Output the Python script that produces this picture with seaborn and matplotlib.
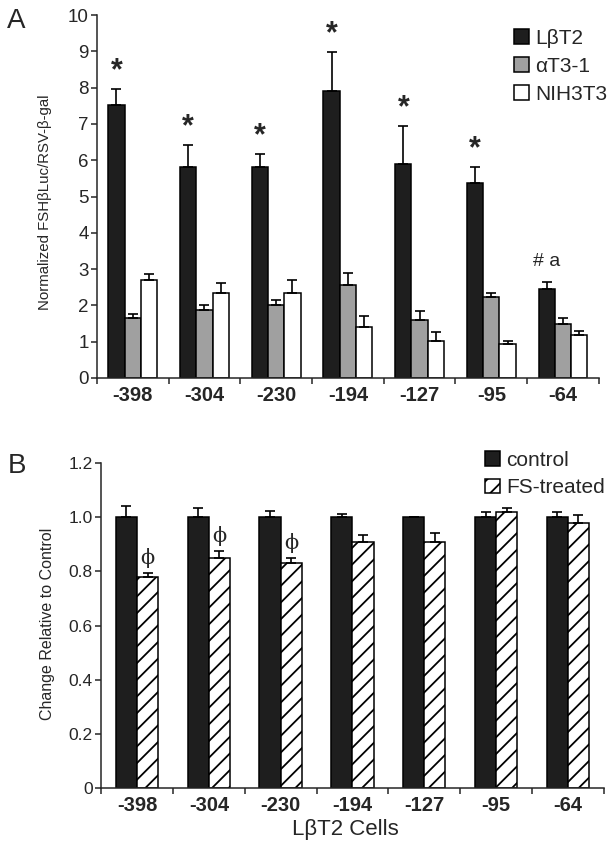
import numpy as np
import pandas as pd
import seaborn as sns
import matplotlib.pyplot as plt
from matplotlib.patches import Patch
from matplotlib.ticker import FixedLocator


promoters = ["-398", "-304", "-230", "-194", "-127", "-95", "-64"]

# panel A: normalized FSHbLuc / RSV-b-gal
cells = ["LβT2", "αT3-1", "NIH3T3"]
lbt2_mean = [7.52, 5.80, 5.80, 7.91, 5.89, 5.38, 2.46]
lbt2_err = [0.45, 0.62, 0.38, 1.07, 1.05, 0.44, 0.19]
at3_mean = [1.65, 1.88, 2.00, 2.56, 1.60, 2.22, 1.48]
at3_err = [0.10, 0.12, 0.14, 0.34, 0.25, 0.11, 0.16]
nih_mean = [2.70, 2.35, 2.35, 1.40, 1.03, 0.93, 1.18]
nih_err = [0.17, 0.27, 0.35, 0.31, 0.23, 0.10, 0.11]
star_marks = ["*", "*", "*", "*", "*", "*", "# a"]

# panel B: change relative to control
treatments = ["control", "FS-treated"]
ctrl_mean = [1.0, 1.0, 1.0, 1.0, 1.0, 1.0, 1.0]
ctrl_err = [0.042, 0.034, 0.025, 0.011, 0.003, 0.021, 0.021]
fs_mean = [0.78, 0.85, 0.83, 0.91, 0.91, 1.02, 0.98]
fs_err = [0.014, 0.025, 0.021, 0.025, 0.033, 0.015, 0.030]
phi_marks = ["ϕ", "ϕ", "ϕ", "", "", "", ""]

BLACK = "#1e1e1e"
GREY = "#a0a0a0"

sns.set_style("ticks")
plt.rcParams["font.family"] = ["Liberation Sans", "DejaVu Sans"]
plt.rcParams["hatch.linewidth"] = 1.3
plt.rcParams["axes.linewidth"] = 1.1


def style_axis(ax, ysize):
    sns.despine(ax=ax)
    ax.set_xlim(-0.5, 6.5)
    ax.tick_params(axis="x", which="major", length=0, pad=6)
    ax.xaxis.set_minor_locator(FixedLocator(np.arange(-0.5, 7, 1)))
    ax.tick_params(axis="x", which="minor", length=4, width=1.1, direction="out")
    ax.tick_params(axis="y", length=4, width=1.1, labelsize=ysize, pad=2)
    for lab in ax.get_xticklabels():
        lab.set_fontweight("bold")
        lab.set_fontsize(14.5)
    ax.set_xlabel("")


def add_errors(ax, means, errs, container):
    xs = [p.get_x() + p.get_width() / 2 for p in container.patches]
    ax.errorbar(xs, means, yerr=[np.zeros(len(errs)), errs], fmt="none",
                ecolor="black", elinewidth=1.2, capsize=3.5, capthick=1.2)
    return xs


fig = plt.figure(figsize=(6.13, 8.49), dpi=100)
axA = fig.add_axes([0.158, 0.5548, 0.819, 0.4275])
axB = fig.add_axes([0.165, 0.0722, 0.820, 0.3821])

# ---- panel A
dfA = pd.DataFrame({
    "promoter": promoters * 3,
    "cell": [c for c in cells for _ in promoters],
    "value": lbt2_mean + at3_mean + nih_mean,
})
sns.barplot(data=dfA, x="promoter", y="value", hue="cell", order=promoters,
            hue_order=cells, palette=[BLACK, GREY, "white"], width=0.68,
            edgecolor="black", linewidth=1.1, errorbar=None, legend=False,
            saturation=1, ax=axA)
xs_black = add_errors(axA, lbt2_mean, lbt2_err, axA.containers[0])
add_errors(axA, at3_mean, at3_err, axA.containers[1])
add_errors(axA, nih_mean, nih_err, axA.containers[2])

for x, m, e, s in zip(xs_black, lbt2_mean, lbt2_err, star_marks):
    if s == "*":
        axA.text(x, m + e + 0.08, s, ha="center", va="bottom", fontsize=22,
                 fontweight="bold")
    else:
        axA.text(x, m + e + 0.55, s, ha="center", va="center", fontsize=14)

axA.set_ylim(0, 10)
axA.set_yticks(range(0, 11))
style_axis(axA, 13.5)
axA.set_ylabel("Normalized FSHβLuc/RSV-β-gal", fontsize=10.8)
axA.yaxis.set_label_coords(-0.09, 0.485)

handlesA = [Patch(facecolor=c, edgecolor="black", linewidth=1.1, label=l)
            for c, l in zip([BLACK, GREY, "white"], cells)]
axA.legend(handles=handlesA, loc="upper left", bbox_to_anchor=(0.81, 0.99),
           frameon=False, fontsize=15, handlelength=0.72, handleheight=0.72,
           handletextpad=0.3, labelspacing=0.42, borderpad=0)

# ---- panel B
dfB = pd.DataFrame({
    "promoter": promoters * 2,
    "treatment": [t for t in treatments for _ in promoters],
    "value": ctrl_mean + fs_mean,
})
sns.barplot(data=dfB, x="promoter", y="value", hue="treatment", order=promoters,
            hue_order=treatments, palette=[BLACK, "white"], width=0.59,
            edgecolor="black", linewidth=1.1, errorbar=None, legend=False,
            saturation=1, ax=axB)
for p in axB.containers[1].patches:
    p.set_hatch("//")
add_errors(axB, ctrl_mean, ctrl_err, axB.containers[0])
xs_fs = add_errors(axB, fs_mean, fs_err, axB.containers[1])

for x, m, e, s in zip(xs_fs, fs_mean, fs_err, phi_marks):
    if s:
        axB.text(x, m + e + 0.055, s, ha="center", va="center", fontsize=15,
                 family=["DejaVu Serif"])

axB.set_ylim(0, 1.2)
axB.set_yticks([0, 0.2, 0.4, 0.6, 0.8, 1.0, 1.2])
axB.set_yticklabels(["0", "0.2", "0.4", "0.6", "0.8", "1.0", "1.2"])
style_axis(axB, 12.5)
axB.set_ylabel("Change Relative to Control", fontsize=11.5)
axB.yaxis.set_label_coords(-0.0925, 0.505)
axB.set_xlabel("LβT2 Cells", fontsize=16)
axB.xaxis.set_label_coords(0.485, -0.095)

handlesB = [Patch(facecolor=BLACK, edgecolor="black", linewidth=1.1, label="control"),
            Patch(facecolor="white", edgecolor="black", linewidth=1.1, hatch="//",
                  label="FS-treated")]
axB.legend(handles=handlesB, loc="upper left", bbox_to_anchor=(0.742, 1.07),
           frameon=False, fontsize=15, handlelength=0.72, handleheight=0.72,
           handletextpad=0.3, labelspacing=0.4, borderpad=0)

fig.text(0.012, 0.99, "A", fontsize=20, va="top", ha="left")
fig.text(0.012, 0.467, "B", fontsize=20, va="top", ha="left")

fig.savefig("out.png", dpi=100)
